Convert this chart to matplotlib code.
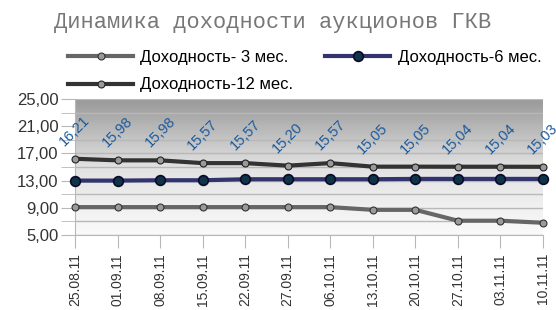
import numpy as np
import matplotlib.pyplot as plt
from matplotlib.colors import LinearSegmentedColormap

dates = ['25.08.11', '01.09.11', '08.09.11', '15.09.11', '22.09.11', '27.09.11',
         '06.10.11', '13.10.11', '20.10.11', '27.10.11', '03.11.11', '10.11.11']
y3 = [9.10, 9.10, 9.10, 9.10, 9.10, 9.10, 9.10, 8.70, 8.70, 7.10, 7.10, 6.80]
y6 = [13.00, 13.00, 13.05, 13.05, 13.20, 13.20, 13.20, 13.20, 13.25, 13.25, 13.25, 13.25]
y12 = [16.21, 15.98, 15.98, 15.57, 15.57, 15.20, 15.57, 15.05, 15.05, 15.04, 15.04, 15.03]

plt.rcParams['font.family'] = ['Liberation Sans', 'DejaVu Sans']

fig = plt.figure(figsize=(5.56, 3.10), dpi=100)
ax = fig.add_axes([75 / 556, 1 - 235 / 310, (543 - 75) / 556, (235 - 99) / 310])

x = np.arange(len(dates))

# gradient background
grad = np.linspace(0, 1, 256).reshape(-1, 1)
cmap = LinearSegmentedColormap.from_list('bg', ['#fafafa', '#e2e2e2', '#999999'])
ax.imshow(grad, extent=[0, 1, 0, 1], transform=ax.transAxes, cmap=cmap,
          aspect='auto', origin='lower', zorder=0)

ax.set_xlim(0, len(dates) - 1)
ax.set_ylim(5, 25)
ax.set_yticks([5, 9, 13, 17, 21, 25])
ax.set_yticks(np.arange(5, 26, 2), minor=True)
ax.set_yticklabels([f'{v:.2f}'.replace('.', ',') for v in [5, 9, 13, 17, 21, 25]],
                   fontsize=12, color='#333333')
ax.grid(True, axis='y', which='both', color='#b8b8b8', lw=1, zorder=1)
ax.tick_params(axis='y', which='both', length=10, color='#b8b8b8', pad=2)
ax.set_xticks(x)
ax.set_xticklabels(dates, rotation=90, fontsize=10, color='#333333')
ax.tick_params(axis='x', length=9, color='#b8b8b8', pad=4)

for s in ['top', 'right']:
    ax.spines[s].set_visible(False)
ax.spines['left'].set_color('#b8b8b8')
ax.spines['bottom'].set_color('#b8b8b8')

l3, = ax.plot(x, y3, color='#666666', lw=3, marker='o', ms=5, mfc='#9a9a9a', mec='#333333',
              mew=0.8, label='Доходность- 3 мес.', zorder=3, clip_on=False)
l6, = ax.plot(x, y6, color='#33336e', lw=3, marker='o', ms=7, mfc='#0f3348', mec='#0a0a28',
              mew=1.2, label='Доходность-6 мес.', zorder=3, clip_on=False)
l12, = ax.plot(x, y12, color='#333333', lw=3, marker='o', ms=5, mfc='#9a9a9a', mec='#222222',
               mew=0.8, label='Доходность-12 мес.', zorder=3, clip_on=False)

for xi, v in zip(x, y12):
    ax.annotate(f'{v:.2f}'.replace('.', ','), (xi, v), xytext=(0, 28),
                textcoords='offset pixels', ha='center', va='center', rotation=45,
                fontsize=10.5, color='#1c5a9c', zorder=4, annotation_clip=False)

fig.text(0.49, 0.928, 'Динамика доходности аукционов ГКВ', ha='center', va='center',
         fontsize=15.8, color='#777777', family=['Liberation Mono', 'DejaVu Sans Mono'])

fig.legend([l3, l12, l6], [l3.get_label(), l12.get_label(), l6.get_label()],
           loc='upper left', bbox_to_anchor=(68 / 556, 1 - 50 / 310), ncol=2, frameon=False,
           fontsize=12, handlelength=3.9, handletextpad=0.45, columnspacing=1.9,
           labelspacing=0.75, borderaxespad=0, borderpad=0)

fig.savefig('out.png', dpi=100)
